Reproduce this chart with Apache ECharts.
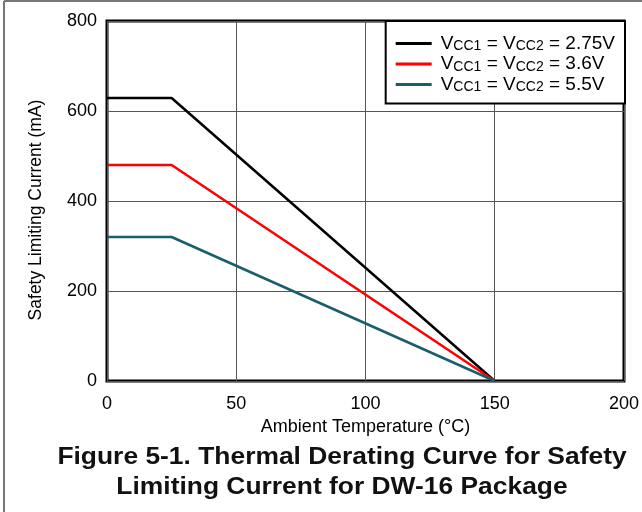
<!DOCTYPE html>
<html>
<head>
<meta charset="utf-8">
<script src="https://cdn.jsdelivr.net/npm/echarts@6/dist/echarts.min.js"></script>
<style>
html, body { margin: 0; padding: 0; background: #fff; }
#container { width: 642px; height: 512px; }
</style>
</head>
<body>
<div id="container"></div>
<script>
// temperature points (°C) and current (mA) for each supply voltage
var temps = [0, 25, 150];
var i275 = [629, 629, 0];
var i36 = [480, 480, 0];
var i55 = [320, 320, 0];
var names = ['2.75V', '3.6V', '5.5V'];

window.onload = function () {
    var dom = document.getElementById("container");
    var myChart = echarts.init(dom);
    var font = 'Liberation Sans, Arial, sans-serif';

    function pts(vals) {
        return temps.map(function (t, i) { return [t, vals[i]]; });
    }
    function mkSeries(name, vals, color) {
        return {
            name: name,
            type: 'line',
            data: pts(vals),
            symbol: 'none',
            lineStyle: { color: color, width: 2.5 },
            itemStyle: { color: color },
            animation: false
        };
    }

    var option = {
        textStyle: { fontFamily: font },
        graphic: [
            { type: 'line', shape: { x1: 4, y1: 1, x2: 642, y2: 1 }, style: { stroke: '#777', lineWidth: 2 } },
            { type: 'line', shape: { x1: 4, y1: 1, x2: 4, y2: 512 }, style: { stroke: '#777', lineWidth: 2 } },
            {
                type: 'text', x: 342, y: 472, scaleX: 1.1,
                style: {
                    text: 'Figure 5-1. Thermal Derating Curve for Safety\nLimiting Current for DW-16 Package',
                    font: 'bold 24px ' + font, fill: '#111', align: 'center', verticalAlign: 'middle', lineHeight: 30
                }
            }
        ],
        grid: {
            left: 107, right: 17, top: 21, bottom: 131,
            show: true, borderColor: '#000', borderWidth: 3, backgroundColor: 'transparent'
        },
        legend: {
            orient: 'vertical',
            right: 17, top: 21,
            backgroundColor: '#fff',
            borderColor: '#000', borderWidth: 2,
            borderRadius: 0,
            padding: [13, 10, 9, 10],
            itemGap: 1,
            itemWidth: 36, itemHeight: 3,
            icon: 'rect',
            data: names,
            formatter: function (n) {
                return '{n|V}{s|CC1}{n| = V}{s|CC2}{n| = ' + n + '}';
            },
            textStyle: {
                color: '#000',
                padding: [0, 0, 0, 4],
                rich: {
                    n: { fontSize: 19, fontFamily: font, lineHeight: 20, verticalAlign: 'middle', color: '#000' },
                    s: { fontSize: 14, fontFamily: font, lineHeight: 12, verticalAlign: 'bottom', color: '#000' }
                }
            }
        },
        xAxis: {
            type: 'value', min: 0, max: 200, interval: 50,
            name: 'Ambient Temperature (°C)', nameLocation: 'middle', nameGap: 28,
            nameTextStyle: { fontSize: 18, color: '#000', fontFamily: font },
            axisLine: { show: false }, axisTick: { show: false },
            axisLabel: { fontSize: 18, color: '#000', margin: 14, fontFamily: font },
            splitLine: { show: true, lineStyle: { color: '#555', width: 1 } }
        },
        yAxis: {
            type: 'value', min: 0, max: 800, interval: 200,
            name: 'Safety Limiting Current (mA)', nameLocation: 'middle', nameGap: 62,
            nameTextStyle: { fontSize: 17.5, color: '#000', fontFamily: font, padding: [0, 18, 0, 0] },
            axisLine: { show: false }, axisTick: { show: false },
            axisLabel: { fontSize: 18, color: '#000', margin: 10, fontFamily: font },
            splitLine: { show: true, lineStyle: { color: '#555', width: 1 } }
        },
        series: [
            mkSeries(names[0], i275, '#000000'),
            mkSeries(names[1], i36, '#ff0000'),
            mkSeries(names[2], i55, '#1a5e6e')
        ]
    };
    myChart.setOption(option, true);
};
</script>
</body>
</html>
